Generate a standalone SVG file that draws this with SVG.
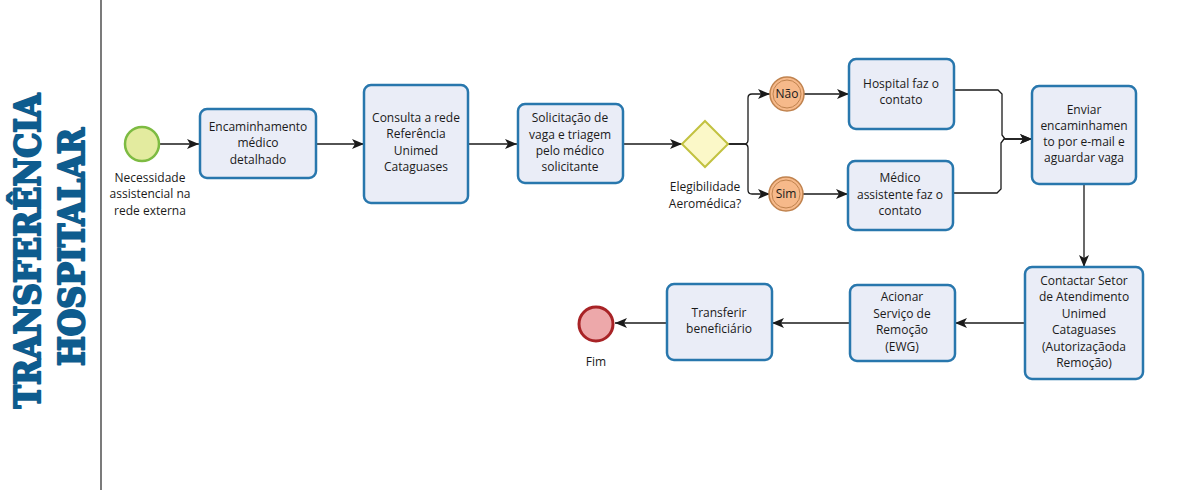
<svg xmlns="http://www.w3.org/2000/svg" width="1200" height="490" viewBox="0 0 1200 490">
<defs>
<style>
.task{fill:#eaedf7;stroke:#2877ad;stroke-width:2.5}
.t{font-family:"Open Sans","Liberation Sans",sans-serif;font-size:12px;fill:#1a1a1a;text-anchor:middle}
.c{fill:none;stroke:#1a1a1a;stroke-width:1.3}
.title{font-family:"DejaVu Serif",serif;font-weight:bold;font-size:36px;fill:#0e5c8e;stroke:#0e5c8e;stroke-width:2.2;stroke-linejoin:round;text-anchor:middle}
.inter{fill:#f6b98a;stroke:#c0834f;stroke-width:1.5}
.inter2{fill:none;stroke:#c0834f;stroke-width:1}
</style>
<marker id="arr" markerUnits="userSpaceOnUse" markerWidth="14" markerHeight="12" refX="12" refY="5" orient="auto">
<path d="M0,0 L12,5 L0,10 L3,5 z" fill="#1a1a1a"/>
</marker>
</defs>
<rect width="1200" height="490" fill="#ffffff"/>
<line x1="101" y1="0" x2="101" y2="490" stroke="#333" stroke-width="1.3"/>
<g id="title">
<text class="title" transform="translate(40,251) rotate(-90)" textLength="315" lengthAdjust="spacingAndGlyphs">TRANSFERÊNCIA</text>
<text class="title" transform="translate(84,247) rotate(-90)" textLength="238" lengthAdjust="spacingAndGlyphs">HOSPITALAR</text>
</g>
<g id="connectors">
<path class="c" marker-end="url(#arr)" d="M160,144 H199"/>
<path class="c" marker-end="url(#arr)" d="M316,144 H364"/>
<path class="c" marker-end="url(#arr)" d="M468,144 H517"/>
<path class="c" marker-end="url(#arr)" d="M623,144 H682"/>
<path class="c" marker-end="url(#arr)" d="M728,144 H744 Q748,144 748,140 V98 Q748,94 752,94 H770"/>
<path class="c" marker-end="url(#arr)" d="M728,144 H744 Q748,144 748,148 V190 Q748,194 752,194 H770"/>
<path class="c" marker-end="url(#arr)" d="M804,94 H849"/>
<path class="c" marker-end="url(#arr)" d="M803,194 H848"/>
<path class="c" marker-end="url(#arr)" d="M954,90 H998 L1002,94 V135 L1005,139 H1032"/>
<path class="c" marker-end="url(#arr)" d="M953,193 H997 L1001,189 V143 L1004,139 H1032"/>
<path class="c" marker-end="url(#arr)" d="M1084,184 V267"/>
<path class="c" marker-end="url(#arr)" d="M1025,323 H955"/>
<path class="c" marker-end="url(#arr)" d="M850,323 H772"/>
<path class="c" marker-end="url(#arr)" d="M667,323 H615"/>
</g>
<g id="start">
<circle cx="142" cy="144" r="17" fill="#e3eb9f" stroke="#7dbb42" stroke-width="2.5"/>
<text class="t" x="150" y="182">Necessidade</text>
<text class="t" x="150" y="198">assistencial na</text>
<text class="t" x="150" y="215">rede externa</text>
</g>
<g id="task1">
<rect class="task" x="200" y="109" width="116" height="69" rx="7"/>
<text class="t" x="258" y="131">Encaminhamento</text>
<text class="t" x="258" y="147">médico</text>
<text class="t" x="258" y="164">detalhado</text>
</g>
<g id="task2">
<rect class="task" x="364" y="85" width="104" height="118" rx="7"/>
<text class="t" x="416" y="122">Consulta a rede</text>
<text class="t" x="416" y="138">Referência</text>
<text class="t" x="416" y="155">Unimed</text>
<text class="t" x="416" y="171">Cataguases</text>
</g>
<g id="task3">
<rect class="task" x="518" y="104" width="105" height="79" rx="7"/>
<text class="t" x="570" y="122">Solicitação de</text>
<text class="t" x="570" y="139">vaga e triagem</text>
<text class="t" x="570" y="155">pelo médico</text>
<text class="t" x="570" y="171">solicitante</text>
</g>
<g id="gateway">
<path d="M705,121 L728,144 L705,167 L682,144 z" fill="#fbf8c8" stroke="#c2c240" stroke-width="2"/>
<text class="t" x="705" y="191">Elegibilidade</text>
<text class="t" x="705" y="208">Aeromédica?</text>
</g>
<g id="nao">
<circle class="inter" cx="787" cy="94" r="17"/>
<circle class="inter2" cx="787" cy="94" r="14"/>
<text class="t" x="787" y="98">Não</text>
</g>
<g id="sim">
<circle class="inter" cx="786" cy="194" r="17"/>
<circle class="inter2" cx="786" cy="194" r="14"/>
<text class="t" x="786" y="198">Sim</text>
</g>
<g id="hospital">
<rect class="task" x="849" y="59" width="105" height="70" rx="7"/>
<text class="t" x="901" y="88">Hospital faz o</text>
<text class="t" x="901" y="104">contato</text>
</g>
<g id="medico">
<rect class="task" x="848" y="161" width="105" height="69" rx="7"/>
<text class="t" x="900" y="182">Médico</text>
<text class="t" x="900" y="199">assistente faz o</text>
<text class="t" x="900" y="215">contato</text>
</g>
<g id="enviar">
<rect class="task" x="1032" y="86" width="104" height="98" rx="7"/>
<text class="t" x="1084" y="114">Enviar</text>
<text class="t" x="1084" y="130">encaminhamen</text>
<text class="t" x="1084" y="146">to por e-mail e</text>
<text class="t" x="1084" y="162">aguardar vaga</text>
</g>
<g id="contactar">
<rect class="task" x="1025" y="267" width="118" height="112" rx="7"/>
<text class="t" x="1084" y="285">Contactar Setor</text>
<text class="t" x="1084" y="301">de Atendimento</text>
<text class="t" x="1084" y="318">Unimed</text>
<text class="t" x="1084" y="334">Cataguases</text>
<text class="t" x="1084" y="351">(Autorizaçãoda</text>
<text class="t" x="1084" y="367">Remoção)</text>
</g>
<g id="acionar">
<rect class="task" x="850" y="285" width="105" height="76" rx="7"/>
<text class="t" x="902" y="301">Acionar</text>
<text class="t" x="902" y="318">Serviço de</text>
<text class="t" x="902" y="334">Remoção</text>
<text class="t" x="902" y="351">(EWG)</text>
</g>
<g id="transferir">
<rect class="task" x="667" y="284" width="105" height="76" rx="7"/>
<text class="t" x="719" y="317">Transferir</text>
<text class="t" x="719" y="333">beneficiário</text>
</g>
<g id="fim">
<circle cx="596" cy="324" r="17" fill="#eda8aa" stroke="#a82326" stroke-width="3"/>
<text class="t" x="596" y="366">Fim</text>
</g>
</svg>
